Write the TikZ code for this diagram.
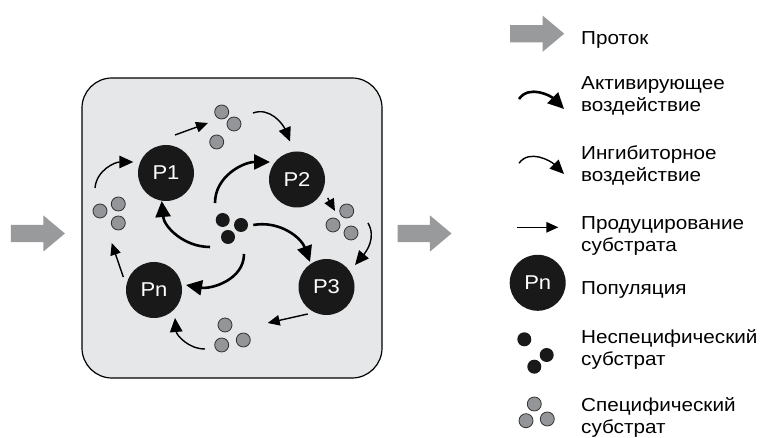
\documentclass[tikz,border=0pt]{standalone}
\usepackage{fontspec}
\setmainfont[FakeStretch=1.1]{Liberation Sans}
\usetikzlibrary{arrows.meta, calc, shapes.arrows}
\definecolor{vesselgray}{RGB}{230,231,232}
\definecolor{dotgray}{RGB}{147,149,152}
\definecolor{flowgray}{RGB}{153,154,156}
\tikzset{
  vessel/.style={draw, line width=1.2pt, fill=vesselgray, rounded corners=30pt,
                 minimum width=300pt, minimum height=300pt, inner sep=0pt},
  pop/.style={circle, fill=black!90, text=white, minimum size=56pt,
              inner sep=0pt, font=\fontsize{20}{24}\selectfont},
  nsub/.style={circle, fill=black!90, minimum size=14pt, inner sep=0pt},
  ssub/.style={circle, draw=black!80, line width=0.8pt, fill=dotgray,
               minimum size=14pt, inner sep=0pt},
  flow/.style={single arrow, fill=flowgray, inner xsep=0pt, inner ysep=8.4pt,
               single arrow head extend=9.5pt, single arrow tip angle=80,
               minimum height=54pt, anchor=tail},
  act/.style={line width=2.6pt, -{Triangle[length=16pt, width=15pt]}},
  inh/.style={line width=1.4pt, -{Triangle[length=14pt, width=12.5pt]}},
  prod/.style={line width=1.4pt, -{Triangle[length=12pt, width=10.5pt]}},
  legtext/.style={anchor=base west, align=left, inner sep=0pt,
                  font=\fontsize{18.8}{22.3}\selectfont}
}

\begin{document}
\begin{tikzpicture}[x=1pt, y=1pt]
  \useasboundingbox (0,0) rectangle (765,438);

  % inflow, vessel, outflow
  \node[flow] (inflow) at (10.7,204.5) {};
  \node[vessel] (tank) at (232,210) {};
  \node[flow] (outflow) at (397.3,204.5) {};

  % populations
  \node[pop] (P1) at (166,265) {P1};
  \node[pop] (P2) at (297,258.5) {P2};
  \node[pop] (P3) at (326.5,151) {P3};
  \node[pop] (Pn) at (154,148) {Pn};

  % nonspecific substrate
  \node[nsub] (n1) at (222.7,218) {};
  \node[nsub] (n2) at (241,213) {};
  \node[nsub] (n3) at (228,201) {};

  % specific substrates
  \node[ssub] (s1a) at (221.7,326) {};
  \node[ssub] (s1b) at (234,314) {};
  \node[ssub] (s1c) at (216.7,296) {};
  \node[ssub] (s2a) at (346.7,227) {};
  \node[ssub] (s2b) at (333,213) {};
  \node[ssub] (s2c) at (351,205) {};
  \node[ssub] (s3a) at (225,113) {};
  \node[ssub] (s3b) at (221.7,93) {};
  \node[ssub] (s3c) at (243.3,98) {};
  \node[ssub] (s4a) at (100,227) {};
  \node[ssub] (s4b) at (118.3,234) {};
  \node[ssub] (s4c) at (118.3,215) {};

  % activating
  \draw[act] ($(n1)+(-7.7,17)$) to[out=90, in=180] ($(P2)+(-27,17.5)$);
  \draw[act] ($(n3)+(-18,-10)$) to[out=180, in=-85] ($(P1)+(-4.3,-28)$);
  \draw[act] ($(n2)+(12.3,0)$) to[out=10, in=110] ($(P3)+(-16.5,25)$);
  \draw[act] ($(n3)+(16,-17)$) to[out=-90, in=-10] ($(Pn)+(32,5)$);

  % inhibitory
  \draw[inh] ($(s1b)+(19,11)$) to[out=20, in=112] ($(P2)+(-7,38)$);
  \draw[inh] ($(s2c)+(17,10)$) to[out=-60, in=50] ($(P3)+(28.5,22)$);
  \draw[inh] ($(s3b)+(-16.7,-4)$) to[out=180, in=-85] ($(Pn)+(21,-28)$);
  \draw[inh] ($(s4a)+(-5,23)$) to[out=85, in=180] ($(P1)+(-32.7,11)$);

  % production
  \draw[prod] ($(P1)+(9,38)$) -- ($(s1a)+(-13.7,-11)$);
  \draw[prod] ($(P2)+(30.7,-18.5)$) -- ($(s2b)+(2,14)$);
  \draw[prod] ($(P3)+(-18.8,-27)$) -- ($(s3c)+(24.4,17)$);
  \draw[prod] ($(Pn)+(-30.7,13)$) -- ($(s4c)+(-6.6,-20)$);

  % legend
  \node[flow] (lflow) at (510,404.3) {};
  \node[legtext] (tflow) at (581,393) {Проток};

  \coordinate (la1) at (519,339);
  \coordinate (la2) at (564,329);
  \draw[act] (la1) to[out=55, in=135] (la2);
  \node[legtext] (tact) at (581,326.3) {Активирующее\\воздействие};

  \coordinate (li1) at (519,274.7);
  \coordinate (li2) at (564,264);
  \draw[inh] (li1) to[out=55, in=135] (li2);
  \node[legtext] (tinh) at (581,256.3) {Ингибиторное\\воздействие};

  \coordinate (lp1) at (516.7,210.7);
  \coordinate (lp2) at (558.3,210.7);
  \draw[prod] (lp1) -- (lp2);
  \node[legtext] (tprod) at (581,186) {Продуцирование\\субстрата};

  \node[pop] (lpop) at (537.7,155.2) {Pn};
  \node[legtext] (tpop) at (581,143) {Популяция};

  \node[nsub] (ln1) at (524.3,98.7) {};
  \node[nsub] (ln2) at (546.7,83) {};
  \node[nsub] (ln3) at (534.3,71.3) {};
  \node[legtext] (tnsub) at (581,72) {Неспецифический\\субстрат};

  \node[ssub] (ls1) at (534.3,34) {};
  \node[ssub] (ls2) at (526,17.3) {};
  \node[ssub] (ls3) at (547.3,19) {};
  \node[legtext] (tssub) at (581,4.2) {Специфический\\субстрат};
\end{tikzpicture}
\end{document}
